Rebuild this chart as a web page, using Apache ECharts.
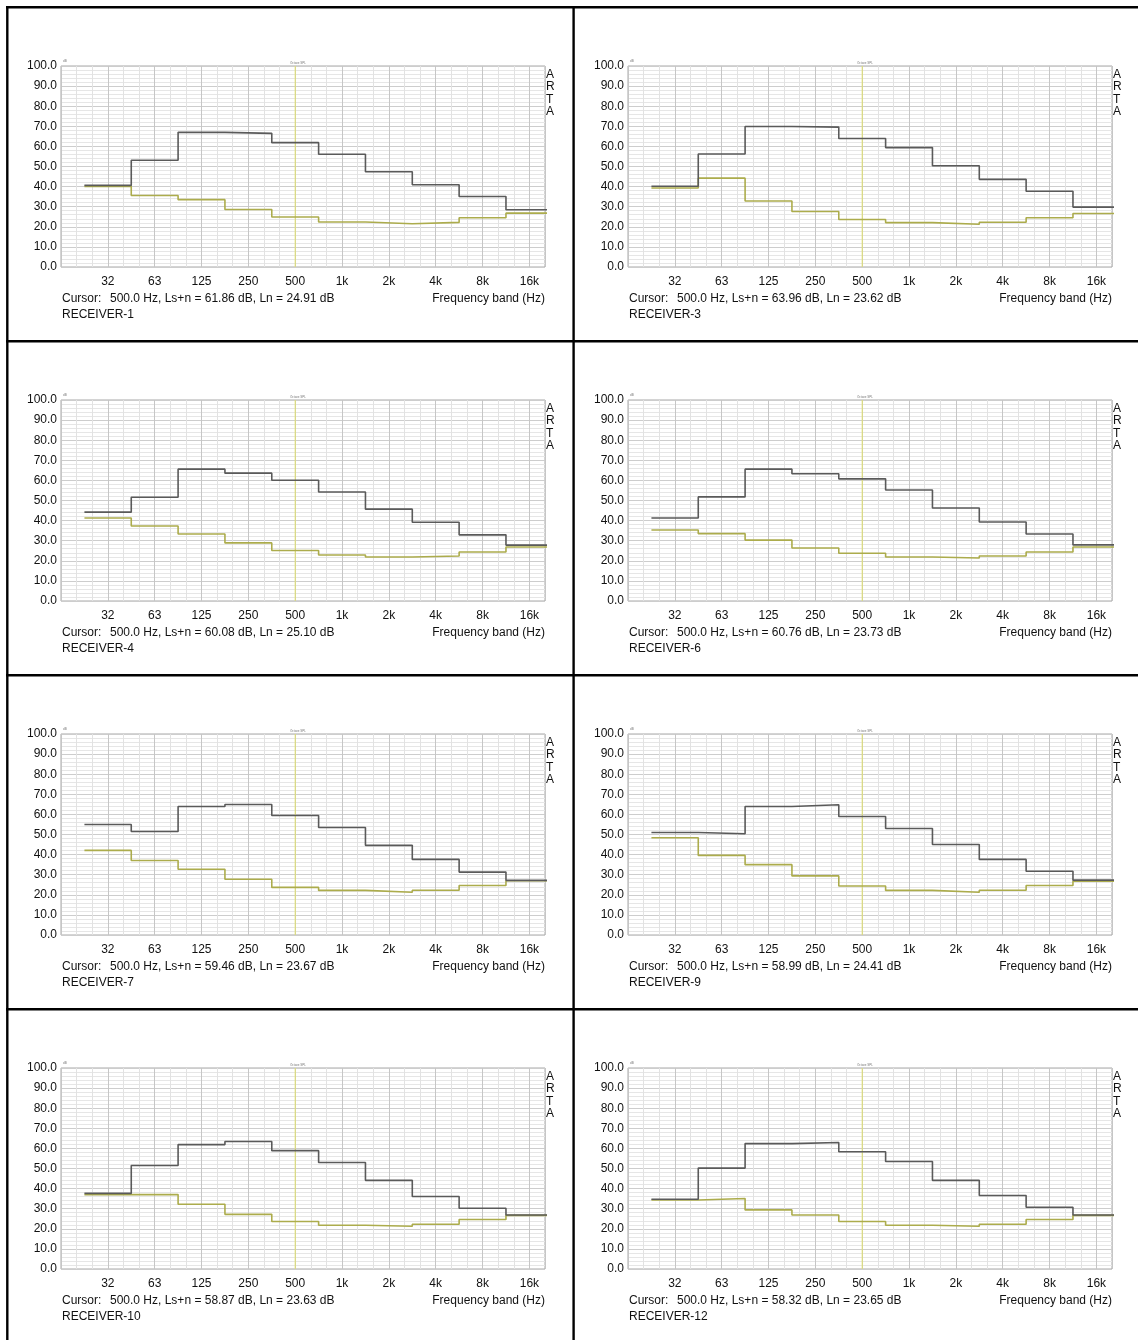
<!DOCTYPE html>
<html>
<head>
<meta charset="utf-8">
<script src="https://cdn.jsdelivr.net/npm/echarts@6/dist/echarts.min.js"></script>
<style>
html,body{margin:0;padding:0;background:#fff;}
#c{width:1138px;height:1340px;}
</style>
</head>
<body>
<div id="c"></div>
<script>
// ---------- DATA ----------
const bands = ['32','63','125','250','500','1k','2k','4k','8k','16k'];
const yTicks = [0,10,20,30,40,50,60,70,80,90,100];
const cursorBand = '500';
const receivers = ['RECEIVER-1','RECEIVER-3','RECEIVER-4','RECEIVER-6','RECEIVER-7','RECEIVER-9','RECEIVER-10','RECEIVER-12'];

const lsn1  = [40.6, 53.1, 67.0, 66.5, 61.86, 56.1, 47.4, 40.9, 35.1, 28.5];
const ln1   = [40.1, 35.6, 33.5, 28.6, 24.91, 22.4, 21.5, 22.2, 24.5, 26.8];
const lsn3  = [40.2, 56.2, 69.9, 69.6, 63.96, 59.4, 50.4, 43.6, 37.7, 29.8];
const ln3   = [39.3, 44.2, 32.8, 27.6, 23.62, 22.1, 21.3, 22.3, 24.5, 26.6];
const lsn4  = [44.2, 51.6, 65.6, 63.6, 60.08, 54.2, 45.7, 39.2, 32.9, 27.8];
const ln4   = [41.3, 37.3, 33.3, 28.9, 25.10, 22.9, 21.9, 22.4, 24.4, 26.9];
const lsn6  = [41.3, 51.8, 65.6, 63.3, 60.76, 55.2, 46.3, 39.3, 33.3, 27.9];
const ln6   = [35.3, 33.5, 30.3, 26.4, 23.73, 21.9, 21.4, 22.4, 24.4, 26.9];
const lsn7  = [55.0, 51.5, 63.9, 64.9, 59.46, 53.5, 44.6, 37.6, 31.3, 27.2];
const ln7   = [42.1, 37.1, 32.7, 27.7, 23.67, 22.2, 21.3, 22.3, 24.6, 27.0];
const lsn9  = [51.0, 50.4, 63.9, 64.8, 58.99, 53.0, 45.0, 37.6, 31.7, 27.3];
const ln9   = [48.4, 39.6, 35.0, 29.4, 24.41, 22.2, 21.3, 22.3, 24.6, 26.8];
const lsn10 = [37.6, 51.5, 61.9, 63.4, 58.87, 53.0, 44.1, 36.1, 30.2, 26.9];
const ln10  = [37.0, 37.1, 32.2, 27.2, 23.63, 21.8, 21.3, 22.3, 24.6, 26.7];
const lsn12 = [34.7, 50.2, 62.4, 62.9, 58.32, 53.5, 44.1, 36.6, 30.7, 26.9];
const ln12  = [34.3, 35.1, 29.4, 26.9, 23.65, 21.8, 21.3, 22.3, 24.6, 26.7];

const lsnAll = [lsn1, lsn3, lsn4, lsn6, lsn7, lsn9, lsn10, lsn12];
const lnAll  = [ln1, ln3, ln4, ln6, ln7, ln9, ln10, ln12];

// ---------- BUILD ----------
const FONT = '"Liberation Sans", Arial, sans-serif';
const PW = 567, PH = 334;
const X_MIN = -1, X_MAX = 28/3;

function stepPoints(vals){
  const pts = [];
  vals.forEach((v,i)=>{ pts.push([i-0.5, v]); pts.push([i+0.5, v]); });
  return pts;
}

const grids = [], xAxes = [], yAxes = [], series = [], graphics = [];
const cIdx = bands.indexOf(cursorBand);
const yMin = yTicks[0], yMax = yTicks[yTicks.length-1];

receivers.forEach((name, p) => {
  const col = p % 2, row = Math.floor(p / 2);
  const ox = col * PW, oy = row * PH;
  grids.push({left: 61 + ox, top: 66 + oy, width: 484, height: 201,
    show: true, borderColor: '#a9a9a9', borderWidth: 1, backgroundColor: '#fff'});
  // minor (1/3 octave) grid axis
  xAxes.push({gridIndex: p, type: 'value', position: 'top', min: X_MIN, max: X_MAX, interval: 1/3,
    axisLine: {show: false}, axisTick: {show: false}, axisLabel: {show: false},
    splitLine: {show: true, lineStyle: {color: '#e2e2e2', width: 1}}});
  // major (octave) axis with labels
  xAxes.push({gridIndex: p, type: 'value', position: 'bottom', min: X_MIN, max: X_MAX, interval: 1,
    axisLine: {show: false}, axisTick: {show: false},
    splitLine: {show: true, lineStyle: {color: '#c6c6c6', width: 1}},
    axisLabel: {show: true, margin: 9, color: '#111', fontSize: 12, fontFamily: FONT,
      showMinLabel: true, showMaxLabel: true,
      formatter: v => { const i = Math.round(v); return (Math.abs(v - i) < 1e-6 && i >= 0 && i < bands.length) ? bands[i] : ''; }}});
  yAxes.push({gridIndex: p, type: 'value', min: yMin, max: yMax, interval: yTicks[1]-yTicks[0],
    axisLine: {show: false}, axisTick: {show: false},
    axisLabel: {margin: 4, color: '#111', fontSize: 12, fontFamily: FONT, padding: [4,0,0,0], formatter: v => v.toFixed(1)},
    splitLine: {show: true, lineStyle: {color: '#cdcdcd', width: 1}},
    minorTick: {show: false, splitNumber: 5},
    minorSplitLine: {show: true, lineStyle: {color: '#e6e6e6', width: 1}}});

  const ls = lsAllGet(p), ln = lnAll[p];
  // cursor line
  series.push({type: 'line', xAxisIndex: 2*p + 1, yAxisIndex: p, data: [[cIdx, yMin], [cIdx, yMax]],
    symbol: 'none', silent: true, animation: false, z: 2,
    lineStyle: {color: '#e3e36e', width: 1}});
  series.push({type: 'line', xAxisIndex: 2*p + 1, yAxisIndex: p, data: stepPoints(ln),
    symbol: 'none', clip: true, silent: true, animation: false,
    lineStyle: {color: '#acac4c', width: 1.6}, z: 3});
  series.push({type: 'line', xAxisIndex: 2*p + 1, yAxisIndex: p, data: stepPoints(ls),
    symbol: 'none', clip: true, silent: true, animation: false,
    lineStyle: {color: '#5a5a5a', width: 1.6}, z: 4});

  const tstyle = (extra) => Object.assign({fontFamily: FONT, fill: '#111', fontSize: 12}, extra);
  graphics.push({type: 'text', left: 63 + ox, top: 60 + oy, style: tstyle({text: 'dB', fontSize: 3, fill: '#777'})});
  graphics.push({type: 'text', x: 298 + ox, y: 63 + oy, style: tstyle({text: 'Octave SPL', fontSize: 3, fill: '#777', textAlign: 'center', textVerticalAlign: 'middle'})});
  graphics.push({type: 'text', x: 546 + ox, y: 68 + oy, style: tstyle({text: 'A\nR\nT\nA', lineHeight: 12.5, textVerticalAlign: 'top'})});
  graphics.push({type: 'text', x: 62 + ox, y: 299 + oy, style: tstyle({text: 'Cursor:', textVerticalAlign: 'middle'})});
  graphics.push({type: 'text', x: 110 + ox, y: 299 + oy, style: tstyle({
    text: bands[cIdx] + '.0 Hz, Ls+n = ' + ls[cIdx].toFixed(2) + ' dB, Ln = ' + ln[cIdx].toFixed(2) + ' dB',
    textVerticalAlign: 'middle'})});
  graphics.push({type: 'text', x: 545 + ox, y: 299 + oy, style: tstyle({text: 'Frequency band (Hz)', textAlign: 'right', textVerticalAlign: 'middle'})});
  graphics.push({type: 'text', x: 62 + ox, y: 315 + oy, style: tstyle({text: name, textVerticalAlign: 'middle'})});
});

function lsAllGet(p){ return lsnAll[p]; }

// panel frame lines
const frame = {stroke: '#000', lineWidth: 2.4};
graphics.push({type: 'line', shape: {x1: 7.3, y1: 6, x2: 7.3, y2: 1340}, style: frame});
graphics.push({type: 'line', shape: {x1: 573.6, y1: 6, x2: 573.6, y2: 1340}, style: frame});
[7.2, 341.2, 675.2, 1009.2].forEach(y => {
  graphics.push({type: 'line', shape: {x1: 6, y1: y, x2: 1138, y2: y}, style: frame});
});

const chart = echarts.init(document.getElementById('c'), null, {renderer: 'canvas'});
chart.setOption({
  animation: false,
  backgroundColor: '#fff',
  grid: grids, xAxis: xAxes, yAxis: yAxes, series: series,
  graphic: graphics
});
</script>
</body>
</html>
